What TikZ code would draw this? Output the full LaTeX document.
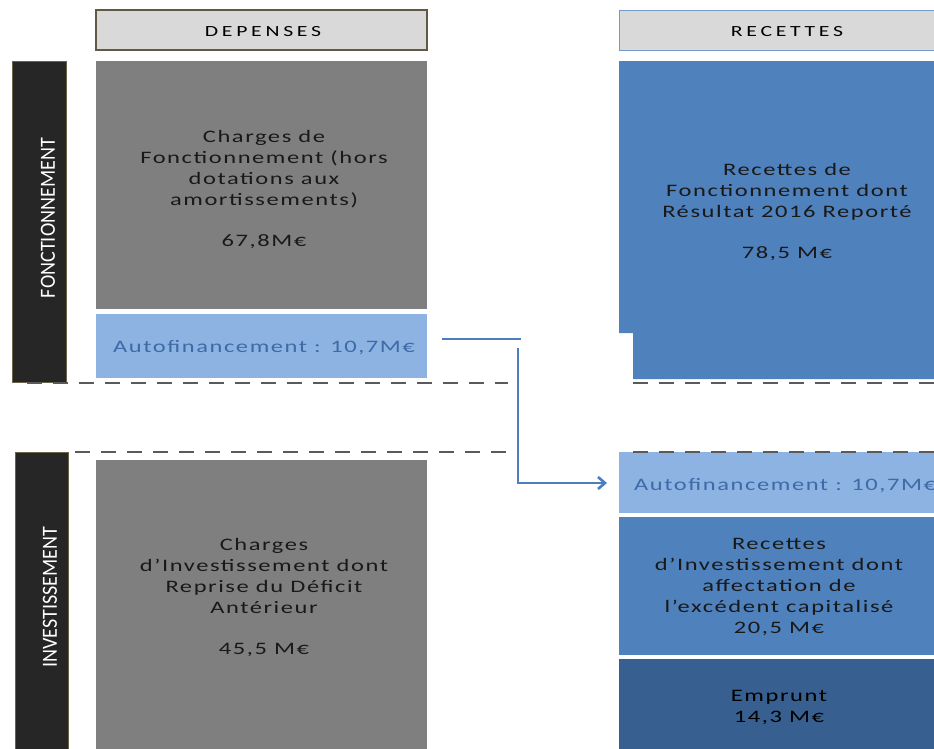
\documentclass[tikz,border=0pt]{standalone}
\usepackage{fontspec}
\setmainfont{Carlito}
\usetikzlibrary{arrows.meta}
\definecolor{hdrfill}{HTML}{D9D9D9}
\definecolor{hdrline}{HTML}{5F5A45}
\definecolor{greybox}{HTML}{7F7F7F}
\definecolor{bluebox}{HTML}{4F81BD}
\definecolor{lightblue}{HTML}{8DB3E2}
\definecolor{darkblue}{HTML}{375F8F}
\definecolor{autotext}{HTML}{3D6BA8}
\definecolor{sidebar}{HTML}{262626}
\definecolor{sideline}{HTML}{6B6347}
\definecolor{dashgrey}{HTML}{5A5A5A}
\definecolor{flowline}{HTML}{4A7EC0}
\newfontfamily\widefont[FakeStretch=1.4, LetterSpace=9]{Carlito}
\newfontfamily\hdrfont[FakeStretch=1.4, LetterSpace=24]{Carlito}
\tikzset{
  x=1pt, y=-1pt,
  header/.style={draw=hdrline, line width=1.2pt, fill=hdrfill},
  sidebox/.style={draw=sideline, line width=1pt, fill=sidebar},
  bodytext/.style={align=center, text=black!90, font=\widefont\fontsize{17.5}{21}\selectfont},
  hdrtext/.style={text=black, font=\hdrfont\fontsize{15.5}{19}\selectfont},
  sidetext/.style={text=white, font=\fontsize{20}{20}\selectfont},
  autotxt/.style={text=autotext, font=\widefont\fontsize{17.5}{21}\selectfont},
  sepline/.style={dashgrey, line width=2.4pt, dash pattern=on 15pt off 11pt},
  flow/.style={flowline, line width=2.6pt},
}
\begin{document}
\begin{tikzpicture}
\useasboundingbox (0,0) rectangle (934,748);
\begin{scope}
\clip (0,0) rectangle (934,748);

% section bars on the left
\draw[sidebox] (12,61) rectangle (66,382);
\draw[sidebox] (15,452) rectangle (68,760);
\node[sidetext, rotate=90, inner sep=0pt] (fonclab) at (48,218) {\resizebox{160pt}{14pt}{FONCTIONNEMENT}};
\node[sidetext, rotate=90, inner sep=0pt] (invlab) at (50,597) {\resizebox{141pt}{14pt}{INVESTISSEMENT}};

% column headers
\draw[header] (96,10) rectangle (427,50);
\node[hdrtext] (dep) at (263,32) {DEPENSES};
\draw[header, draw=bluebox!80, line width=1pt] (619,10) rectangle (940,50);
\node[hdrtext] (rec) at (787,32) {RECETTES};

% expenditure blocks
\fill[greybox] (96,61) rectangle (427,309);
\node[bodytext] (chfonc) at (264,190) {Charges de\\Fonctionnement (hors\\dotations aux\\amortissements)\\[20pt]67,8M€};
\fill[lightblue] (96,314) rectangle (427,378);
\node[autotxt] (autoL) at (264,348) {Autofinancement : 10,7M€};
\fill[greybox] (96,460) rectangle (427,760);
\node[bodytext] (chinv) at (264,598) {Charges\\d’Investissement dont\\Reprise du Déficit\\Antérieur\\[20pt]45,5 M€};

% revenue blocks
\fill[bluebox] (619,61) -- (940,61) -- (940,379) -- (633,379) -- (633,333) -- (619,333) -- cycle;
\node[bodytext] (recfonc) at (787,212) {Recettes de\\Fonctionnement dont\\Résultat 2016 Reporté\\[20pt]78,5 M€};
\fill[lightblue] (619,452) rectangle (940,513);
\node[autotxt, anchor=west, inner sep=0pt] (autoR) at (634,486) {Autofinancement : 10,7M€};
\fill[bluebox] (619,517) rectangle (940,655);
\node[bodytext] (recinv) at (779,587) {Recettes\\d’Investissement dont\\affectation de\\l’excédent capitalisé\\20,5 M€};
\fill[darkblue] (619,659) rectangle (940,760);
\node[bodytext, text=black] (emp) at (779,707) {Emprunt\\14,3 M€};

% section separators
\coordinate (s1a) at (27,383);  \coordinate (s1b) at (508,383);
\coordinate (s1c) at (633,383); \coordinate (s1d) at (940,383);
\coordinate (s2a) at (75,452);  \coordinate (s2b) at (508,452);
\coordinate (s2c) at (633,452); \coordinate (s2d) at (940,452);
\draw[sepline] (s1a) -- (s1b);
\draw[sepline] (s1c) -- (s1d);
\draw[sepline] (s2a) -- (s2b);
\draw[sepline] (s2c) -- (s2d);

% self-financing transfer
\coordinate (f1) at (442,339);
\coordinate (f2) at (521,339);
\coordinate (f3) at (518,348);
\coordinate (f4) at (518,483);
\coordinate (f5) at (607,483);
\draw[flow] (f1) -- (f2);
\draw[flow, -{Straight Barb[length=7pt,width=12pt]}] (f3) -- (f4) -- (f5);
\end{scope}
\end{tikzpicture}
\end{document}
